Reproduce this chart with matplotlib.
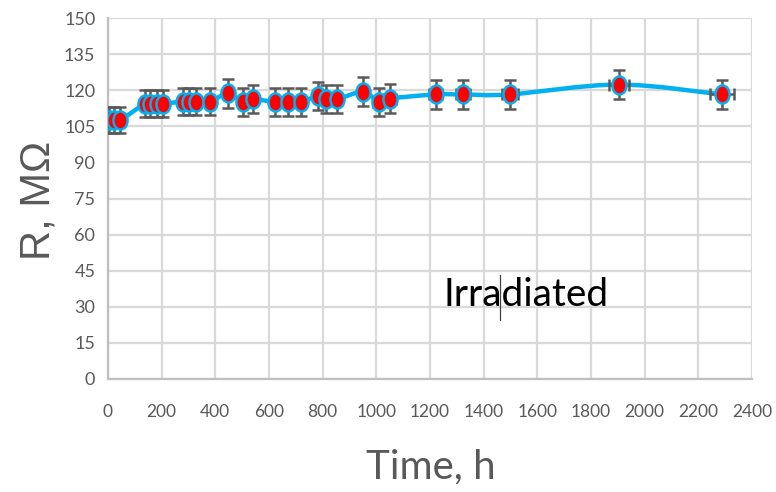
import matplotlib
matplotlib.use("Agg")
import matplotlib.pyplot as plt
import numpy as np
from matplotlib.path import Path
from matplotlib.patches import PathPatch
from matplotlib.transforms import Affine2D

# Resistance measured over exposure time
hours = [5, 24, 45, 138, 157, 183, 205, 281, 303, 330, 380, 447, 504, 541,
         622, 670, 718, 783, 812, 855, 951, 1009, 1051, 1222, 1323, 1498,
         1904, 2288]
resistance = [107.5, 107.5, 107.5, 114.5, 114.5, 114.5, 114.5, 115.3, 115.3,
              115.3, 115.3, 118.7, 115.2, 116.3, 115.2, 115.2, 115.2, 117.6,
              116.3, 116.3, 119.4, 115.2, 116.6, 118.3, 118.3, 118.3, 122.4,
              118.3]
x_ticks = [0, 200, 400, 600, 800, 1000, 1200, 1400, 1600, 1800, 2000, 2200, 2400]
y_ticks = [0, 15, 30, 45, 60, 75, 90, 105, 120, 135, 150]
rel_err_y = 0.05   # 5 % uncertainty on resistance
rel_err_x = 0.02   # 2 % uncertainty on time

x = np.array(hours, dtype=float)
y = np.array(resistance, dtype=float)

body = ["Lato", "DejaVu Sans"]
grey_text = "#595959"

fig = plt.figure(figsize=(7.76, 4.92), dpi=100)
ax = fig.add_axes([0.139, 0.230, 0.830, 0.733])

ax.set_xlim(0, 2400)
ax.set_ylim(0, 150)
ax.set_xticks(x_ticks)
ax.set_yticks(y_ticks)
ax.set_xticklabels([str(v) for v in x_ticks], family=body, fontsize=12.5, color=grey_text)
ax.set_yticklabels([str(v) for v in y_ticks], family=body, fontsize=13, color=grey_text)
ax.tick_params(axis="both", length=0)
ax.tick_params(axis="x", pad=18)
ax.tick_params(axis="y", pad=9)
ax.grid(True, color="#D9D9D9", linewidth=1.6)
ax.set_axisbelow(True)
for side in ("top", "right"):
    ax.spines[side].set_visible(False)
for side in ("left", "bottom"):
    ax.spines[side].set_color("#BFBFBF")
    ax.spines[side].set_linewidth(1.6)

# Smoothed connecting line (cubic Bezier through the points)
verts = [(x[0], y[0])]
codes = [Path.MOVETO]
n = len(x)
for i in range(n - 1):
    p0 = np.array([x[max(i - 1, 0)], y[max(i - 1, 0)]])
    p1 = np.array([x[i], y[i]])
    p2 = np.array([x[i + 1], y[i + 1]])
    p3 = np.array([x[min(i + 2, n - 1)], y[min(i + 2, n - 1)]])
    c1 = p1 + (p2 - p0) / 6.0
    c2 = p2 - (p3 - p1) / 6.0
    verts += [tuple(c1), tuple(c2), tuple(p2)]
    codes += [Path.CURVE4, Path.CURVE4, Path.CURVE4]
curve = PathPatch(Path(verts, codes), facecolor="none", edgecolor="#00B0F0",
                  linewidth=3.2, capstyle="round", joinstyle="round", zorder=3)
ax.add_patch(curve)

# Error bars
ax.errorbar(x, y, yerr=y * rel_err_y, xerr=x * rel_err_x, fmt="none",
            ecolor="#595959", elinewidth=1.8, capsize=4.5, capthick=1.8, zorder=4)

# Slightly tall oval markers
oval = Path.unit_circle().transformed(Affine2D().scale(0.78, 1.0))
ax.plot(x, y, linestyle="none", marker=oval, markersize=13,
        markerfacecolor="#FF0000", markeredgecolor="#00B0F0",
        markeredgewidth=1.8, zorder=5)

ax.text(1250, 30.5, "Irradiated", family=body, fontsize=28, color="black",
        ha="left", va="baseline", zorder=6)
ax.plot([0.609, 0.609], [0.163, 0.288], transform=ax.transAxes,
        color="#404040", linewidth=0.9, zorder=7)

fig.text(0.049, 0.593, "R, MΩ", rotation=90, family=["Liberation Sans", "DejaVu Sans"],
         fontsize=30, color=grey_text, ha="center", va="center")
fig.text(0.555, 0.05, "Time, h", family=body, fontsize=29, color=grey_text,
         ha="center", va="center")

fig.savefig("out.png", dpi=100)
